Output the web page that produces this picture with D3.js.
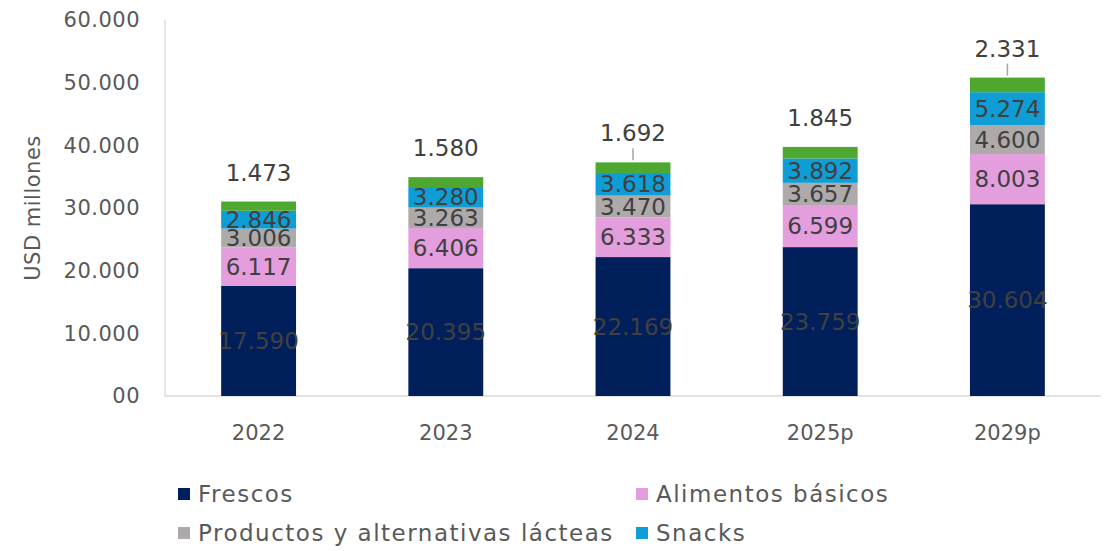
<!DOCTYPE html>
<html>
<head>
<meta charset="utf-8">
<script src="https://cdn.jsdelivr.net/npm/d3@7"></script>
<style>
  body { margin: 0; background: #fff; }
  text { font-family: "DejaVu Sans", sans-serif; }
</style>
</head>
<body>
<script>
// data
const years = ["2022", "2023", "2024", "2025p", "2029p"];
const seriesNames = ["Frescos", "Alimentos básicos", "Productos y alternativas lácteas", "Snacks", "Otros"];
const frescos = [17590, 20395, 22169, 23759, 30604];
const basicos = [6117, 6406, 6333, 6599, 8003];
const lacteos = [3006, 3263, 3470, 3657, 4600];
const snacks = [2846, 3280, 3618, 3892, 5274];
const otros = [1473, 1580, 1692, 1845, 2331];
const yTicks = [0, 10000, 20000, 30000, 40000, 50000, 60000];
const yTickLabels = ["00", "10.000", "20.000", "30.000", "40.000", "50.000", "60.000"];
const colors = ["#001F5B", "#E59EDD", "#AEAAAA", "#0E9ED5", "#4EA72E"];

var w = 1114;
var h = 551;
var mLeft = 165, mRight = 1101, mTop = 20, mBottom = 396;

const fmt = v => d3.format(",")(v).replace(/,/g, ".");

var rows = years.map((y, i) => ({
  year: y,
  s0: frescos[i], s1: basicos[i], s2: lacteos[i], s3: snacks[i], s4: otros[i]
}));
var keys = ["s0", "s1", "s2", "s3", "s4"];
var stacked = d3.stack().keys(keys)(rows);

var xScale = d3.scaleBand().domain(years).range([mLeft, mRight]).paddingInner(0.6).paddingOuter(0.3);
var yScale = d3.scaleLinear().domain([0, 60000]).range([mBottom, mTop]);

var svg = d3.select("body").append("svg").attr("width", w).attr("height", h);

// axes
svg.append("line")
  .attr("x1", mLeft).attr("x2", mLeft).attr("y1", mTop).attr("y2", mBottom)
  .attr("stroke", "#d9d9d9").attr("stroke-width", 1.3);
svg.append("line")
  .attr("x1", mLeft).attr("x2", mRight).attr("y1", mBottom).attr("y2", mBottom)
  .attr("stroke", "#d9d9d9").attr("stroke-width", 1.3);

svg.selectAll(".ytick")
  .data(yTicks)
  .enter()
  .append("text")
  .attr("class", "ytick")
  .attr("x", 140)
  .attr("y", d => yScale(d))
  .attr("dy", "0.35em")
  .attr("text-anchor", "end")
  .attr("font-size", 21)
  .attr("letter-spacing", 0.5)
  .attr("fill", "#595959")
  .text((d, i) => yTickLabels[i]);

svg.append("text")
  .attr("transform", "translate(40," + (mTop + mBottom) / 2 + ") rotate(-90)")
  .attr("text-anchor", "middle")
  .attr("font-size", 21)
  .attr("letter-spacing", 0.5)
  .attr("fill", "#595959")
  .text("USD millones");

svg.selectAll(".xtick")
  .data(years)
  .enter()
  .append("text")
  .attr("class", "xtick")
  .attr("x", d => xScale(d) + xScale.bandwidth() / 2)
  .attr("y", 440)
  .attr("text-anchor", "middle")
  .attr("font-size", 21)
  .attr("fill", "#595959")
  .text(d => d);

// bars
var layers = svg.selectAll(".layer")
  .data(stacked)
  .enter()
  .append("g")
  .attr("fill", (d, i) => colors[i]);

layers.selectAll("rect")
  .data(d => d)
  .enter()
  .append("rect")
  .attr("x", d => xScale(d.data.year))
  .attr("y", d => yScale(d[1]))
  .attr("width", xScale.bandwidth())
  .attr("height", d => yScale(d[0]) - yScale(d[1]));

// inner labels (first four series)
stacked.slice(0, 4).forEach(layer => {
  svg.selectAll(".lbl-" + layer.key)
    .data(layer)
    .enter()
    .append("text")
    .attr("x", d => xScale(d.data.year) + xScale.bandwidth() / 2)
    .attr("y", d => yScale((d[0] + d[1]) / 2))
    .attr("dy", "0.35em")
    .attr("text-anchor", "middle")
    .attr("font-size", 23)
    .attr("fill", "#404040")
    .text(d => fmt(d[1] - d[0]));
});

// top labels
var last = stacked[4];
svg.selectAll(".toplbl")
  .data(last)
  .enter()
  .append("text")
  .attr("x", d => xScale(d.data.year) + xScale.bandwidth() / 2)
  .attr("y", d => yScale(d[1]) - 21)
  .attr("text-anchor", "middle")
  .attr("font-size", 23)
  .attr("fill", "#404040")
  .text(d => fmt(d[1] - d[0]));

// leader lines where the label sits a bit away
svg.selectAll(".leader")
  .data(last.filter(d => d.data.year === "2024" || d.data.year === "2029p"))
  .enter()
  .append("line")
  .attr("x1", d => xScale(d.data.year) + xScale.bandwidth() / 2)
  .attr("x2", d => xScale(d.data.year) + xScale.bandwidth() / 2)
  .attr("y1", d => yScale(d[1]) - 2)
  .attr("y2", d => yScale(d[1]) - 14)
  .attr("stroke", "#a6a6a6")
  .attr("stroke-width", 1.5);

// legend
var legendPos = [[178, 494], [636, 494], [178, 533], [636, 533]];
var lg = svg.selectAll(".legend")
  .data(seriesNames.slice(0, 4))
  .enter()
  .append("g")
  .attr("transform", (d, i) => "translate(" + legendPos[i][0] + "," + legendPos[i][1] + ")");
lg.append("rect")
  .attr("x", 0).attr("y", -6).attr("width", 12).attr("height", 12)
  .attr("fill", (d, i) => colors[i]);
lg.append("text")
  .attr("x", 20)
  .attr("dy", "0.35em")
  .attr("font-size", 23)
  .attr("letter-spacing", 1.5)
  .attr("fill", "#595959")
  .text(d => d);
</script>
</body>
</html>
